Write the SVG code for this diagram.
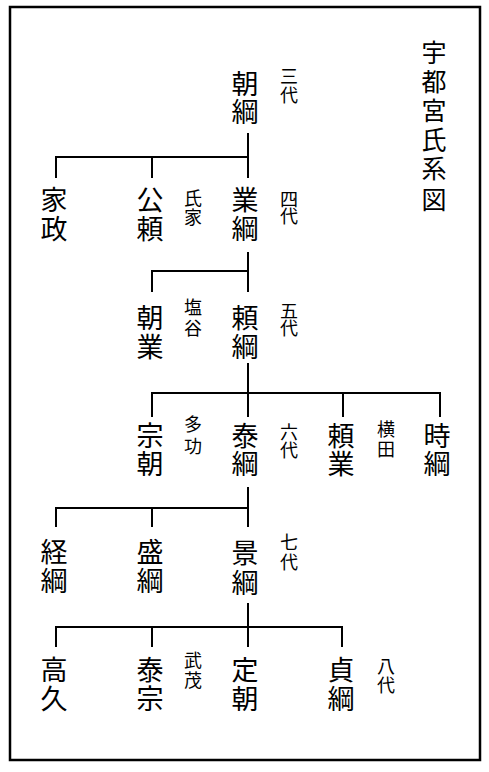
<svg xmlns="http://www.w3.org/2000/svg" width="489" height="772" viewBox="0 0 489 772">
<style>
.n{font-family:"Noto Sans CJK JP","Noto Sans CJK SC",sans-serif;font-size:27px;fill:#000;text-anchor:middle;dominant-baseline:central}
.s{font-family:"Noto Sans CJK JP","Noto Sans CJK SC",sans-serif;font-size:18px;fill:#000;text-anchor:middle;dominant-baseline:central}
.t{font-family:"Noto Sans CJK JP","Noto Sans CJK SC",sans-serif;font-size:25px;fill:#000;text-anchor:middle;dominant-baseline:central}
.c{fill:none;stroke:#000;stroke-width:2}
</style>
<rect x="0" y="0" width="489" height="772" fill="#fff"/>
<rect x="10" y="7" width="470" height="753" fill="none" stroke="#000" stroke-width="2.5"/>
<g id="title"><text class="t"><tspan x="434" y="51">宇</tspan><tspan x="434" y="80">都</tspan><tspan x="434" y="109">宮</tspan><tspan x="434" y="138">氏</tspan><tspan x="434" y="167">系</tspan><tspan x="434" y="198">図</tspan></text></g>
<g id="connectors">
<path class="c" d="M248 133V178M56 178V157H248M152 157V178"/>
<path class="c" d="M248 252V292M152 292V271H248"/>
<path class="c" d="M248 363V417M152 417V393H440V417M343 393V417"/>
<path class="c" d="M248 487V527M56 527V508H248M152 508V527"/>
<path class="c" d="M248 603V647M56 647V627H342V647M152 627V647"/>
</g>
<g id="tomotsuna"><text class="n"><tspan x="245" y="82">朝</tspan><tspan x="245" y="110">綱</tspan></text><text class="s"><tspan x="289" y="75">三</tspan><tspan x="289" y="94">代</tspan></text></g>
<g id="iemasa"><text class="n"><tspan x="54" y="198">家</tspan><tspan x="54" y="227">政</tspan></text></g>
<g id="kimiyori"><text class="n"><tspan x="150" y="198">公</tspan><tspan x="150" y="227">頼</tspan></text><text class="s"><tspan x="193" y="197">氏</tspan><tspan x="193" y="216">家</tspan></text></g>
<g id="naritsuna"><text class="n"><tspan x="245" y="198">業</tspan><tspan x="245" y="227">綱</tspan></text><text class="s"><tspan x="289" y="198">四</tspan><tspan x="289" y="215">代</tspan></text></g>
<g id="tomonari"><text class="n"><tspan x="150" y="316">朝</tspan><tspan x="150" y="345">業</tspan></text><text class="s"><tspan x="193" y="306">塩</tspan><tspan x="193" y="327">谷</tspan></text></g>
<g id="yoritsuna"><text class="n"><tspan x="245" y="316">頼</tspan><tspan x="245" y="345">綱</tspan></text><text class="s"><tspan x="289" y="310">五</tspan><tspan x="289" y="327">代</tspan></text></g>
<g id="munetomo"><text class="n"><tspan x="150" y="434">宗</tspan><tspan x="150" y="462">朝</tspan></text><text class="s"><tspan x="193" y="423">多</tspan><tspan x="193" y="445">功</tspan></text></g>
<g id="yasutsuna"><text class="n"><tspan x="245" y="434">泰</tspan><tspan x="245" y="462">綱</tspan></text><text class="s"><tspan x="289" y="431">六</tspan><tspan x="289" y="449">代</tspan></text></g>
<g id="yorinari"><text class="n"><tspan x="341" y="434">頼</tspan><tspan x="341" y="462">業</tspan></text><text class="s"><tspan x="386" y="428">横</tspan><tspan x="386" y="448">田</tspan></text></g>
<g id="tokitsuna"><text class="n"><tspan x="437" y="434">時</tspan><tspan x="437" y="462">綱</tspan></text></g>
<g id="tsunetsuna"><text class="n"><tspan x="54" y="550">経</tspan><tspan x="54" y="579">綱</tspan></text></g>
<g id="moritsuna"><text class="n"><tspan x="150" y="550">盛</tspan><tspan x="150" y="579">綱</tspan></text></g>
<g id="kagetsuna"><text class="n"><tspan x="245" y="551">景</tspan><tspan x="245" y="581">綱</tspan></text><text class="s"><tspan x="289" y="541">七</tspan><tspan x="289" y="561">代</tspan></text></g>
<g id="takahisa"><text class="n"><tspan x="54" y="668">高</tspan><tspan x="54" y="697">久</tspan></text></g>
<g id="yasumune"><text class="n"><tspan x="150" y="668">泰</tspan><tspan x="150" y="697">宗</tspan></text><text class="s"><tspan x="193" y="659">武</tspan><tspan x="193" y="679">茂</tspan></text></g>
<g id="sadatomo"><text class="n"><tspan x="245" y="668">定</tspan><tspan x="245" y="697">朝</tspan></text></g>
<g id="sadatsuna"><text class="n"><tspan x="341" y="668">貞</tspan><tspan x="341" y="697">綱</tspan></text><text class="s"><tspan x="386" y="665">八</tspan><tspan x="386" y="684">代</tspan></text></g>
</svg>
